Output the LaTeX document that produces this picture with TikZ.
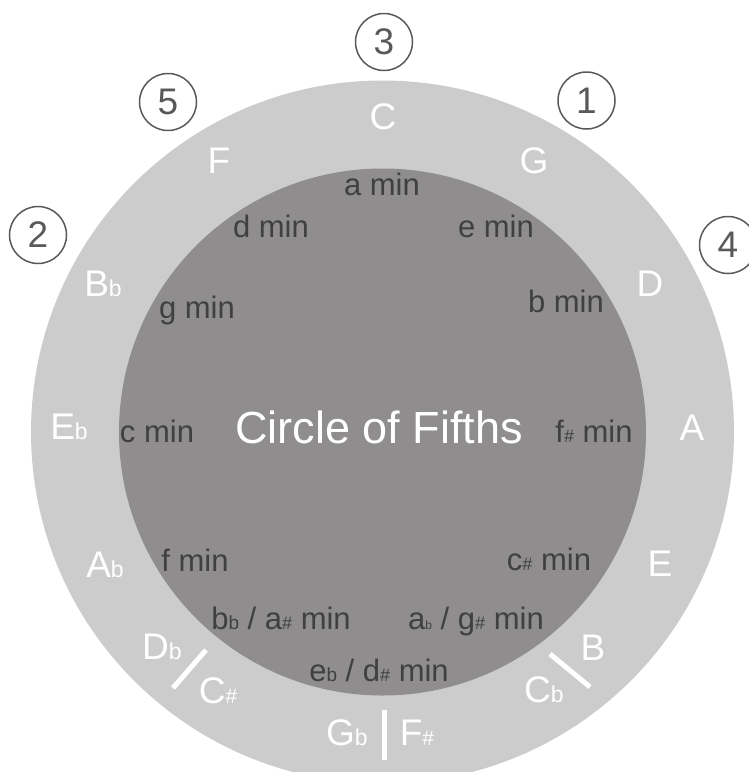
\documentclass[tikz,border=0pt]{standalone}
\usepackage{fontspec}
\setmainfont{Liberation Sans}
\usetikzlibrary{positioning}
\definecolor{ringgray}{HTML}{CCCCCC}
\definecolor{coregray}{HTML}{8F8D8E}
\definecolor{textgray}{HTML}{404040}
\definecolor{numgray}{HTML}{595959}
\newcommand{\fsz}[1]{\fontsize{#1}{#1}\selectfont}
\newcommand{\ob}{{\fsz{23}b}}
\newcommand{\os}{{\fsz{21}\#}}
\newcommand{\mb}{{\fsz{19}b}}
\newcommand{\ms}{{\fsz{18}\#}}
\newcommand{\tb}{{\fsz{12}b}}

\begin{document}
\begin{tikzpicture}[x=1pt, y=-1pt,
    major/.style={text=white, font=\fsz{37}, anchor=base, inner sep=0pt},
    minor/.style={text=textgray, font=\fsz{31}, anchor=base, inner sep=0pt},
    count/.style={circle, draw=numgray, line width=1.5pt, text=numgray, font=\fsz{37}, minimum size=57pt, inner sep=0pt},
    divider/.style={white, line width=5pt}]
    \clip (0,0) rectangle (749,772);
    \coordinate (hub) at (382.5,432);
    \fill[ringgray] (hub) circle [radius=351.5pt];
    \fill[coregray] (hub) circle [radius=263.5pt];
    % major keys
    \node[major] (c) at (383,129) {C};
    \node[major] (g) at (534,173) {G};
    \node[major] (d) at (650,296) {D};
    \node[major] (a) at (692,440) {A};
    \node[major] (e) at (660,576) {E};
    \node[major] (b) at (593,660) {B};
    \node[major] (cf) at (544,702) {C\ob};
    \node[major] (fs) at (417,745) {F\os};
    \node[major] (gf) at (347,745) {G\ob};
    \node[major] (cs) at (218,703) {C\os};
    \node[major] (df) at (162,659) {D\ob};
    \node[major] (af) at (105,577) {A\ob};
    \node[major] (ef) at (69,439) {E\ob};
    \node[major] (bf) at (103,296) {B\ob};
    \node[major] (f) at (219,173) {F};
    \draw[divider] (384,710) -- (384,760);
    \draw[divider] (206,650) -- (173,688);
    \draw[divider] (550,654) -- (590,687);
    % minor keys
    \node[minor] (am) at (382,195) {a min};
    \node[minor] (em) at (496,237) {e min};
    \node[minor] (bm) at (566,312) {b min};
    \node[minor] (fsm) at (594,442) {f\ms{} min};
    \node[minor] (csm) at (549,570) {c\ms{} min};
    \node[minor] (gsm) at (476,629) {a\tb{} / g\ms{} min};
    \node[minor] (dsm) at (379,681) {e\mb{} / d\ms{} min};
    \node[minor] (asm) at (281,629) {b\mb{} / a\ms{} min};
    \node[minor] (fm) at (195,571) {f min};
    \node[minor] (cm) at (157,442) {c min};
    \node[minor] (gm) at (197,318) {g min};
    \node[minor] (dm) at (271,237) {d min};
    \node[text=white, font=\fsz{45}, anchor=base, inner sep=0pt] (title) at (379,443) {Circle of Fifths};
    % numbered marks
    \node[count] (n1) at (586.5,100.5) {1};
    \node[count] (n2) at (38,235) {2};
    \node[count] (n3) at (384,42) {3};
    \node[count] (n4) at (728,245) {4};
    \node[count] (n5) at (168,102) {5};
\end{tikzpicture}
\end{document}
